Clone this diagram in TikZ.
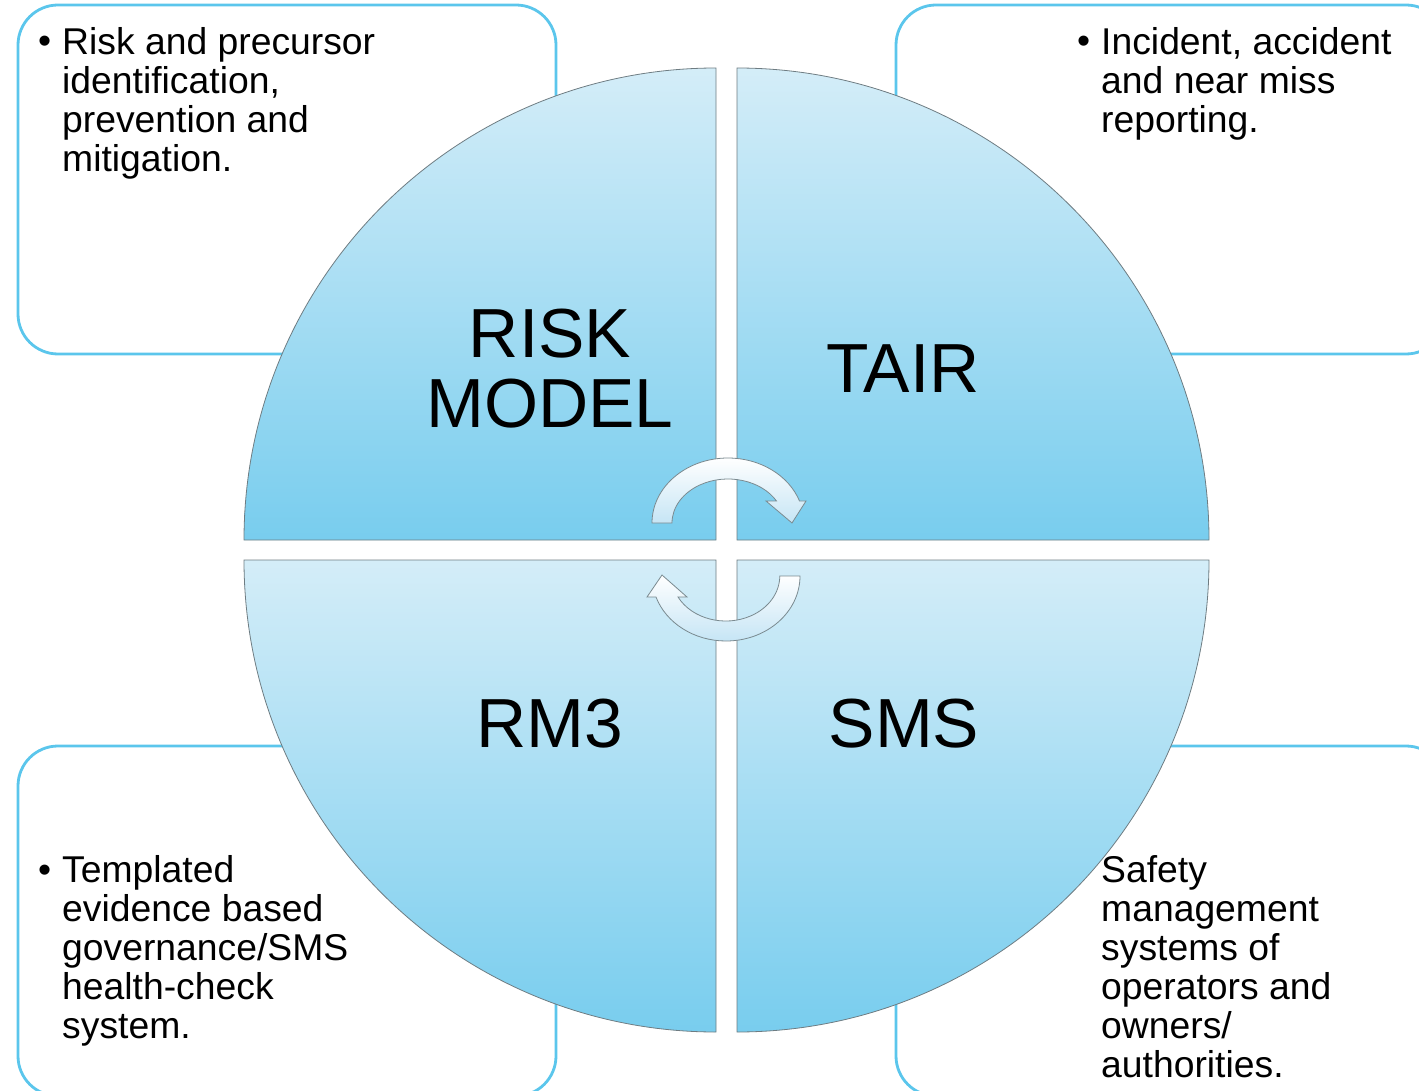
\documentclass[tikz,border=0pt]{standalone}
\usepackage{fontspec}
\setmainfont{Liberation Sans}
\definecolor{boxblue}{HTML}{5BC6EC}
\definecolor{quadtop}{HTML}{D4EDF8}
\definecolor{quadbot}{HTML}{78CDEE}
\definecolor{quadgray}{HTML}{6E7C82}
\definecolor{arrowgray}{HTML}{7A8A90}
\definecolor{arrowbot}{HTML}{C6E5F5}
\begin{document}
\begin{tikzpicture}[x=1pt,y=-1pt,
  infobox/.style={draw=boxblue, line width=2.8pt, rounded corners=40pt, fill=white},
  quad/.style={draw=quadgray, line width=0.8pt, top color=quadtop, bottom color=quadbot},
  cyc/.style={draw=arrowgray, line width=0.8pt, top color=white, bottom color=arrowbot},
  bigtxt/.style={font=\fontsize{69.5}{70}\selectfont, align=center, text=black, inner sep=0pt},
  smalltxt/.style={font=\fontsize{37.3}{39}\selectfont, align=left, inner sep=0pt, anchor=north west},
  bul/.style={font=\fontsize{37.3}{39}\selectfont, inner sep=0pt, anchor=base west}
]
\useasboundingbox (0,0) rectangle (1419,1091);
\clip (0,0) rectangle (1419,1091);
% info boxes
\draw[infobox] (18,5) rectangle (556,354);
\draw[infobox] (896,5) rectangle (1446,354);
\draw[infobox] (18,746) rectangle (556,1096);
\draw[infobox] (896,746) rectangle (1446,1096);
% quadrants
\path[quad] (716,540) -- (244,540) arc[start angle=180, end angle=270, radius=472] -- cycle;
\path[quad] (737,540) -- (737,68) arc[start angle=270, end angle=360, radius=472] -- cycle;
\path[quad] (737,560) -- (1209,560) arc[start angle=0, end angle=90, radius=472] -- cycle;
\path[quad] (716,560) -- (716,1032) arc[start angle=90, end angle=180, radius=472] -- cycle;
% cycle arrows
\path[cyc] (652,523) arc[start angle=180, end angle=340.2, x radius=76, y radius=65]
  -- (806,501) -- (792,523) -- (766,501) -- (776.5,501)
  arc[start angle=330, end angle=180, x radius=56, y radius=44] -- cycle;
\path[cyc] (800,576) arc[start angle=0, end angle=161.2, x radius=74, y radius=65]
  -- (647,597) -- (662,575) -- (687,597) -- (678,597)
  arc[start angle=152.2, end angle=0, x radius=54, y radius=45] -- cycle;
% big labels
\node[bigtxt] (risk) at (550,369) {RISK\\MODEL};
\node[bigtxt] (tair) at (903,369) {TAIR};
\node[bigtxt] (rm3) at (550,724) {RM3};
\node[bigtxt] (sms) at (904,724) {SMS};
% box texts
\node[smalltxt] (t1) at (62,27.5) {Risk and precursor\\identification,\\prevention and\\mitigation.};
\node[bul] (b1) at (38,54) {•};
\node[smalltxt] (t2) at (1101,27.5) {Incident, accident\\and near miss\\reporting.};
\node[bul] (b2) at (1077,54) {•};
\node[smalltxt] (t3) at (62,855.5) {Templated\\evidence based\\governance/SMS\\health-check\\system.};
\node[bul] (b3) at (38,882) {•};
\node[smalltxt] (t4) at (1101,855.5) {Safety\\management\\systems of\\operators and\\owners/\\authorities.};
\end{tikzpicture}
\end{document}
